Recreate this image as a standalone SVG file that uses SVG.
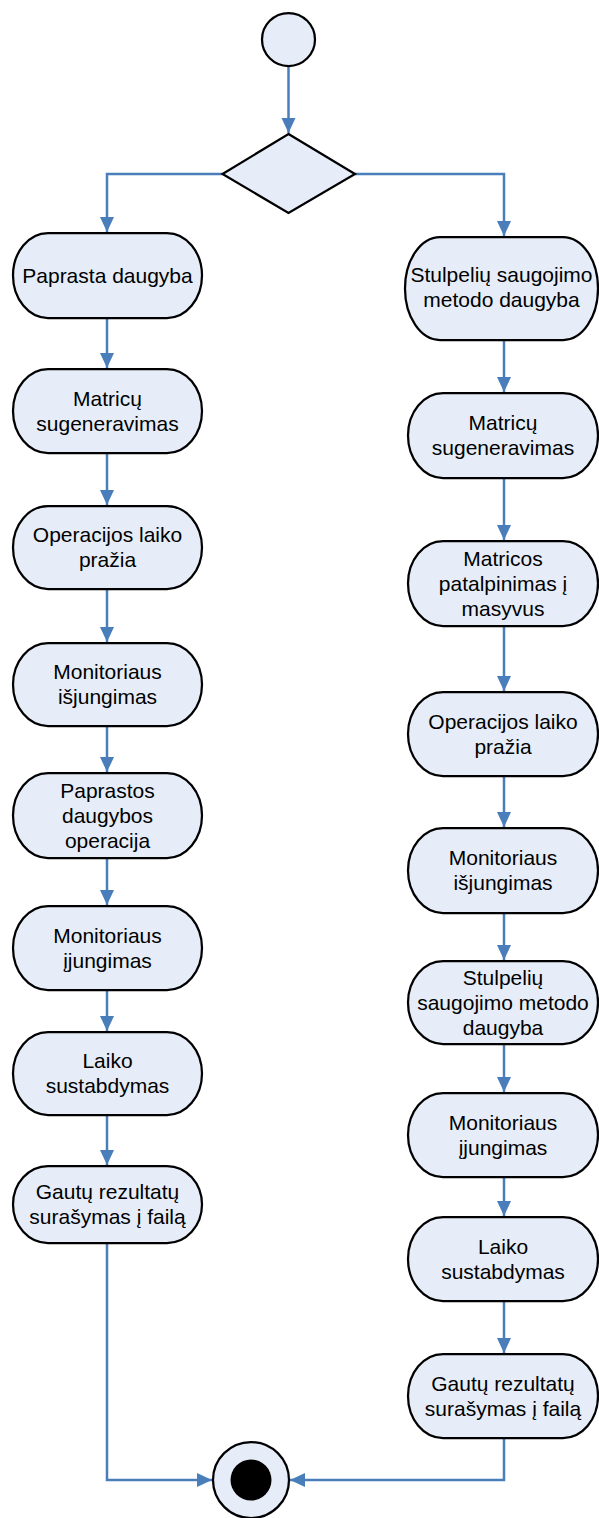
<svg xmlns="http://www.w3.org/2000/svg" width="599" height="1518" viewBox="0 0 599 1518">
<style>
.n{fill:#e6edf8;stroke:#000;stroke-width:2.25}
.c{fill:none;stroke:#4a7ebb;stroke-width:2.5}
.t{font-family:"Liberation Sans",Arial,sans-serif;font-size:21px;fill:#000;text-anchor:middle}
</style>
<defs>
<marker id="a" markerUnits="userSpaceOnUse" markerWidth="16" markerHeight="16" viewBox="0 0 16 16" refX="15" refY="8" orient="auto">
<path d="M0,1 L15,8 L0,15 Z" fill="#4a7ebb"/>
</marker>
</defs>
<rect width="599" height="1518" fill="#fff"/>
<g id="connectors">
<path class="c" d="M288.5,66 V133" marker-end="url(#a)"/>
<path class="c" d="M222.5,174 H107 V232" marker-end="url(#a)"/>
<path class="c" d="M355,174 H504 V236" marker-end="url(#a)"/>
<path class="c" d="M107,318 V368" marker-end="url(#a)"/>
<path class="c" d="M107,453 V505" marker-end="url(#a)"/>
<path class="c" d="M107,589 V642" marker-end="url(#a)"/>
<path class="c" d="M107,726 V772" marker-end="url(#a)"/>
<path class="c" d="M107,858 V905" marker-end="url(#a)"/>
<path class="c" d="M107,990 V1031" marker-end="url(#a)"/>
<path class="c" d="M107,1115 V1165" marker-end="url(#a)"/>
<path class="c" d="M107,1243 V1480 H212" marker-end="url(#a)"/>
<path class="c" d="M504,340 V392" marker-end="url(#a)"/>
<path class="c" d="M504,478 V540" marker-end="url(#a)"/>
<path class="c" d="M504,626 V691" marker-end="url(#a)"/>
<path class="c" d="M504,776 V827" marker-end="url(#a)"/>
<path class="c" d="M504,913 V960" marker-end="url(#a)"/>
<path class="c" d="M504,1044 V1092" marker-end="url(#a)"/>
<path class="c" d="M504,1177 V1216" marker-end="url(#a)"/>
<path class="c" d="M504,1301 V1353" marker-end="url(#a)"/>
<path class="c" d="M504,1438 V1480 H290" marker-end="url(#a)"/>
</g>
<g id="start"><circle class="n" cx="288.5" cy="39.5" r="26.5"/></g>
<g id="decision"><polygon class="n" points="288.5,134 355,174 288.5,213 222.5,174"/></g>
<g id="end"><circle class="n" cx="251" cy="1480" r="38"/><circle cx="251" cy="1480" r="20.5" fill="#000"/></g>

<g id="l1"><rect class="n" x="13" y="233" width="189" height="85" rx="35" ry="42.5"/><text class="t" x="107.5" y="282.5">Paprasta daugyba</text></g>
<g id="l2"><rect class="n" x="13" y="369" width="189" height="84" rx="35" ry="42"/><text class="t" x="107.5" y="405.5">Matricų</text><text class="t" x="107.5" y="430.5">sugeneravimas</text></g>
<g id="l3"><rect class="n" x="13" y="506" width="189" height="83" rx="35" ry="41.5"/><text class="t" x="107.5" y="542">Operacijos laiko</text><text class="t" x="107.5" y="567">pražia</text></g>
<g id="l4"><rect class="n" x="13" y="643" width="189" height="83" rx="35" ry="41.5"/><text class="t" x="107.5" y="679">Monitoriaus</text><text class="t" x="107.5" y="704">išjungimas</text></g>
<g id="l5"><rect class="n" x="13" y="773" width="189" height="85" rx="35" ry="42.5"/><text class="t" x="107.5" y="797.5">Paprastos</text><text class="t" x="107.5" y="822.5">daugybos</text><text class="t" x="107.5" y="847.5">operacija</text></g>
<g id="l6"><rect class="n" x="13" y="906" width="189" height="84" rx="35" ry="42"/><text class="t" x="107.5" y="942.5">Monitoriaus</text><text class="t" x="107.5" y="967.5">įjungimas</text></g>
<g id="l7"><rect class="n" x="13" y="1032" width="189" height="83" rx="35" ry="41.5"/><text class="t" x="107.5" y="1068">Laiko</text><text class="t" x="107.5" y="1093">sustabdymas</text></g>
<g id="l8"><rect class="n" x="13" y="1166" width="189" height="77" rx="35" ry="38.5"/><text class="t" x="107.5" y="1198.5">Gautų rezultatų</text><text class="t" x="107.5" y="1223.5">surašymas į failą</text></g>

<g id="r1"><rect class="n" x="405" y="237" width="193" height="103" rx="35" ry="51.5"/><text class="t" x="501.5" y="282">Stulpelių saugojimo</text><text class="t" x="501.5" y="307">metodo daugyba</text></g>
<g id="r2"><rect class="n" x="408" y="393" width="190" height="85" rx="35" ry="42.5"/><text class="t" x="503" y="430">Matricų</text><text class="t" x="503" y="455">sugeneravimas</text></g>
<g id="r3"><rect class="n" x="408" y="541" width="190" height="85" rx="35" ry="42.5"/><text class="t" x="503" y="565.5">Matricos</text><text class="t" x="503" y="590.5">patalpinimas į</text><text class="t" x="503" y="615.5">masyvus</text></g>
<g id="r4"><rect class="n" x="408" y="692" width="190" height="84" rx="35" ry="42"/><text class="t" x="503" y="728.5">Operacijos laiko</text><text class="t" x="503" y="753.5">pražia</text></g>
<g id="r5"><rect class="n" x="408" y="828" width="190" height="85" rx="35" ry="42.5"/><text class="t" x="503" y="865">Monitoriaus</text><text class="t" x="503" y="890">išjungimas</text></g>
<g id="r6"><rect class="n" x="408" y="961" width="190" height="83" rx="35" ry="41.5"/><text class="t" x="503" y="984.5">Stulpelių</text><text class="t" x="503" y="1009.5">saugojimo metodo</text><text class="t" x="503" y="1034.5">daugyba</text></g>
<g id="r7"><rect class="n" x="408" y="1093" width="190" height="84" rx="35" ry="42"/><text class="t" x="503" y="1129.5">Monitoriaus</text><text class="t" x="503" y="1154.5">įjungimas</text></g>
<g id="r8"><rect class="n" x="408" y="1217" width="190" height="84" rx="35" ry="42"/><text class="t" x="503" y="1253.5">Laiko</text><text class="t" x="503" y="1278.5">sustabdymas</text></g>
<g id="r9"><rect class="n" x="408" y="1354" width="190" height="84" rx="35" ry="42"/><text class="t" x="503" y="1390.5">Gautų rezultatų</text><text class="t" x="503" y="1415.5">surašymas į failą</text></g>
</svg>
